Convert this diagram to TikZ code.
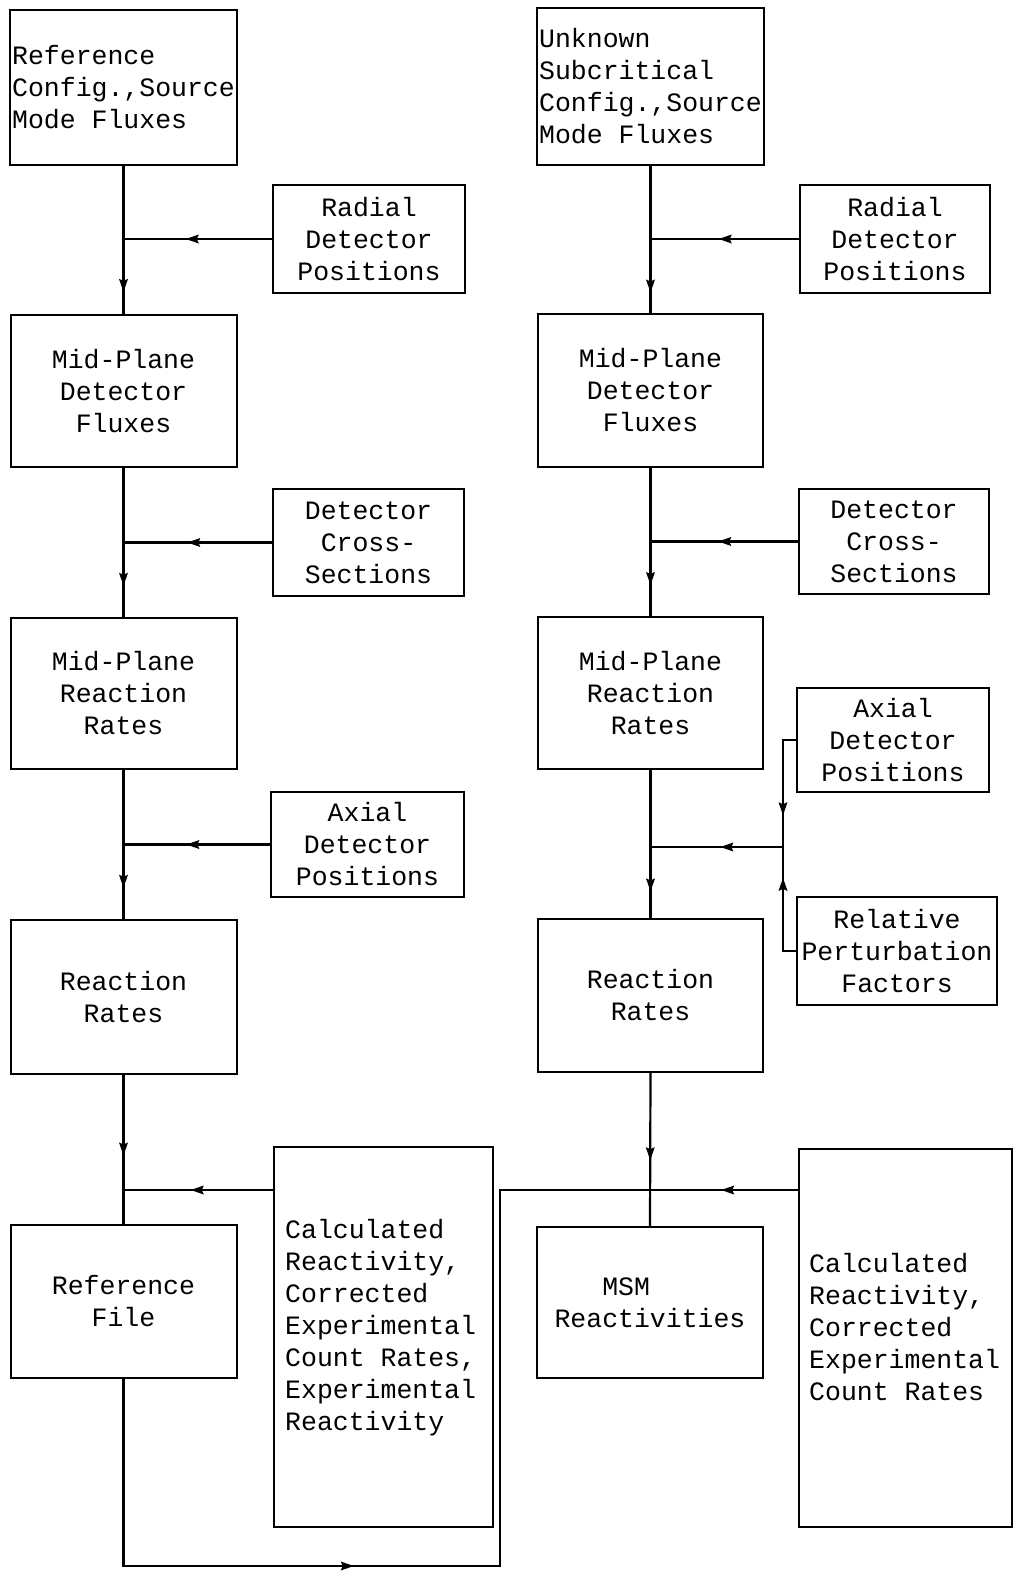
\documentclass[tikz,border=0pt]{standalone}
\usepackage{fontspec}
\newfontfamily\typewriter{Liberation Mono}[WordSpace={1,0,0}]
\usetikzlibrary{decorations.markings}

\tikzset{
  box/.style={draw, line width=2pt, inner sep=2pt, align=center,
    font=\typewriter\fontsize{26.5}{32}\selectfont},
  note/.style={inner sep=0pt, align=left, anchor=north west,
    font=\typewriter\fontsize{26.5}{32}\selectfont},
  flow/.style={line width=2.2pt},
  % filled head part way along a line
  arrowat/.style={flow, postaction={decorate,
    decoration={markings, mark=at position #1 with {\fill (3pt,0pt) -- (-10pt,4.5pt) -- (-8pt,0pt) -- (-10pt,-4.5pt) -- cycle;}}}},
}

\begin{document}
\begin{tikzpicture}[x=1pt,y=-1pt]
\useasboundingbox (0,0) rectangle (1015,1571);

% reference configuration
\node[box, align=left, minimum width=226pt, minimum height=155pt] (refcfg) at (123.5,87.5) {Reference\\Config.,Source\\Mode Fluxes};
\node[box, minimum width=192pt, minimum height=108pt] (radl) at (369,239) {Radial\\Detector\\Positions};
\node[box, minimum width=226pt, minimum height=152pt] (mpfl) at (123.5,391) {Mid-Plane\\Detector\\Fluxes};
\node[box, minimum width=191pt, minimum height=107pt] (dcsl) at (368.5,542.5) {Detector\\Cross-\\Sections};
\node[box, minimum width=226pt, minimum height=151pt] (mprl) at (123.5,693.5) {Mid-Plane\\Reaction\\Rates};
\node[box, minimum width=193pt, minimum height=105pt] (axl) at (367.5,844.5) {Axial\\Detector\\Positions};
\node[box, minimum width=226pt, minimum height=154pt] (rrl) at (123.5,997) {Reaction\\Rates};
\node[box, minimum width=219pt, minimum height=380pt] (calcl) at (383.5,1337) {};
\node[note] (calcltxt) at (285,1219) {Calculated\\Reactivity,\\Corrected\\Experimental\\Count Rates,\\Experimental\\Reactivity};
\node[box, minimum width=226pt, minimum height=153pt] (reffile) at (123.5,1301.5) {Reference\\File};

% unknown configuration
\node[box, align=left, minimum width=225pt, minimum height=157pt] (unk) at (650.5,86.5) {Unknown\\Subcritical\\Config.,Source\\Mode Fluxes};
\node[box, minimum width=190pt, minimum height=108pt] (radr) at (895,239) {Radial\\Detector\\Positions};
\node[box, minimum width=225pt, minimum height=153pt] (mpfr) at (650.5,390.5) {Mid-Plane\\Detector\\Fluxes};
\node[box, minimum width=190pt, minimum height=105pt] (dcsr) at (894,541.5) {Detector\\Cross-\\Sections};
\node[box, minimum width=225pt, minimum height=152pt] (mprr) at (650.5,693) {Mid-Plane\\Reaction\\Rates};
\node[box, minimum width=192pt, minimum height=104pt] (axr) at (893,740) {Axial\\Detector\\Positions};
\node[box, minimum width=200pt, minimum height=108pt] (relp) at (897,951) {Relative\\Perturbation\\Factors};
\node[box, minimum width=225pt, minimum height=153pt] (rrr) at (650.5,995.5) {Reaction\\Rates};
\node[box, align=left, minimum width=226pt, minimum height=151pt] (msm) at (650,1302.5) {\phantom{Rea}MSM\\Reactivities};
\node[box, minimum width=213pt, minimum height=378pt] (calcr) at (905.5,1338) {};
\node[note] (calcrtxt) at (809,1253) {Calculated\\Reactivity,\\Corrected\\Experimental\\Count Rates};

% junctions on the main lines
\coordinate (jl1) at (radl.west -| refcfg.south);
\coordinate (jl2) at (dcsl.west -| refcfg.south);
\coordinate (jl3) at (axl.west -| refcfg.south);
\coordinate (jl4) at (refcfg.south |- 0,1190);
\coordinate (jr1) at (radr.west -| unk.south);
\coordinate (jr2) at (dcsr.west -| unk.south);
\coordinate (jr3) at (unk.south |- 0,847);
\coordinate (jr4) at (unk.south |- 0,1190);
\coordinate (fork) at (783,847);
\coordinate (back) at (500,1566);

% left chain
\draw[arrowat=0.83] (refcfg.south) -- (mpfl.north);
\draw[arrowat=0.77] (mpfl.south) -- (mprl.north);
\draw[arrowat=0.77] (mprl.south) -- (rrl.north);
\draw[arrowat=0.52] (rrl.south) -- (reffile.north);
\draw[arrowat=0.56] (radl.west) -- (jl1);
\draw[arrowat=0.55] (dcsl.west) -- (jl2);
\draw[arrowat=0.55] (axl.west) -- (jl3);
\draw[arrowat=0.53] (calcl.west |- jl4) -- (jl4);

% right chain
\draw[arrowat=0.84] (unk.south) -- (mpfr.north);
\draw[arrowat=0.77] (mpfr.south) -- (mprr.north);
\draw[arrowat=0.8] (mprr.south) -- (rrr.north);
\draw[arrowat=0.55] (rrr.south) -- (msm.north);
\draw[arrowat=0.52] (radr.west) -- (jr1);
\draw[arrowat=0.52] (dcsr.west) -- (jr2);
\draw[arrowat=0.71] (axr.west) -| (fork);
\draw[arrowat=0.71] (relp.west) -| (fork);
\draw[arrowat=0.45] (fork) -- (jr3);
\draw[arrowat=0.5] (calcr.west |- jr4) -- (jr4);

% reference file fed back
\draw[arrowat=0.38] (reffile.south) |- (back) -- (back |- jr4) -- (jr4);
\end{tikzpicture}
\end{document}
